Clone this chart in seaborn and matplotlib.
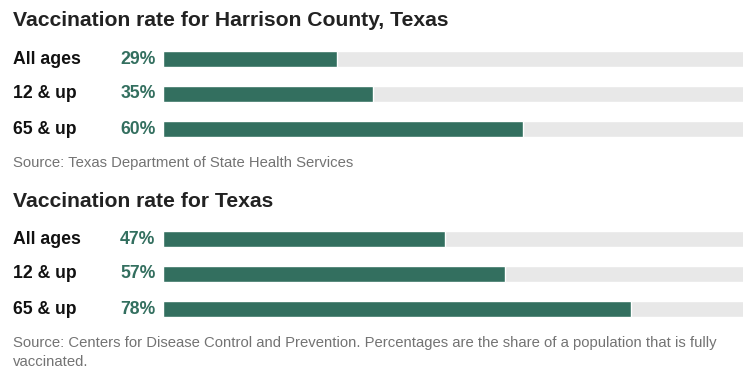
import matplotlib
matplotlib.use("Agg")
import matplotlib.pyplot as plt
import seaborn as sns

# data
groups = ["All ages", "12 & up", "65 & up"]
harrison = [29, 35, 60]
texas = [47, 57, 78]
titles = ["Vaccination rate for Harrison County, Texas", "Vaccination rate for Texas"]
sources = ["Source: Texas Department of State Health Services",
           "Source: Centers for Disease Control and Prevention. Percentages are the share of a population that is fully\nvaccinated."]

green = "#336f5f"
track = "#e8e8e8"

sns.set_theme(style="white")
plt.rcParams["font.family"] = ["Liberation Sans", "DejaVu Sans"]

W, H = 743, 372
fig = plt.figure(figsize=(W / 100, H / 100), dpi=100)


def fy(y):
    return 1 - y / H


def panel(vals, title, source, top, title_y, src_y):
    # top = pixel y of first bar centre
    y0 = top - 17.5
    ax = fig.add_axes([163 / W, fy(y0 + 105), 1 - 163 / W, 105 / H])
    sns.barplot(x=[100] * len(groups), y=groups, orient="h", color=track,
                width=16 / 35, ax=ax, saturation=1)
    sns.barplot(x=vals, y=groups, orient="h", color=green,
                width=16 / 35, ax=ax, saturation=1)
    ax.set_xlim(0, 96.7)
    ax.set_ylim(2.5, -0.5)
    ax.axis("off")
    for i, (g, v) in enumerate(zip(groups, vals)):
        yc = top + i * 35
        fig.text(13 / W, fy(yc), g, fontsize=12.7, fontweight="bold",
                 color="#111111", va="center", ha="left")
        fig.text(155.5 / W, fy(yc), f"{v}%", fontsize=12.7, fontweight="bold",
                 color=green, va="center", ha="right")
    fig.text(13 / W, fy(title_y), title, fontsize=15.2, fontweight="bold",
             color="#222222", va="center", ha="left")
    fig.text(13 / W, fy(src_y), source, fontsize=10.75, color="#737373",
             va="top", ha="left", linespacing=1.5)


panel(harrison, titles[0], sources[0], 59, 20.5, 156)
panel(texas, titles[1], sources[1], 239, 201.5, 336)

fig.savefig("out.png", dpi=100)
